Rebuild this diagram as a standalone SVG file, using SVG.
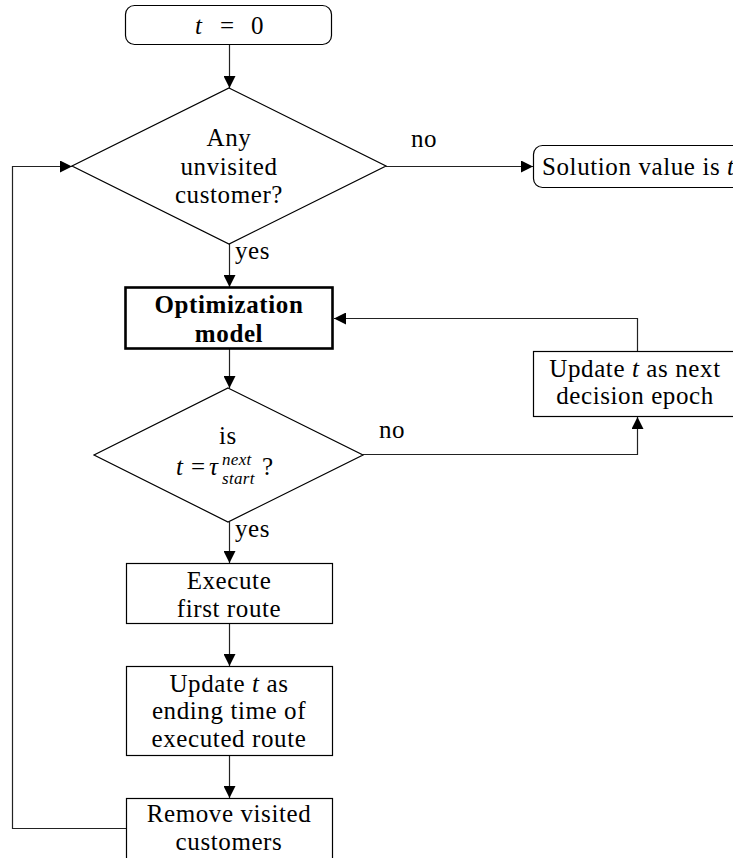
<svg xmlns="http://www.w3.org/2000/svg" width="733" height="858" viewBox="0 0 733 858" font-family="Liberation Serif, DejaVu Serif, serif">
  <style>
    .box { fill: #fff; stroke: #000; stroke-width: 1.2; }
    .bold { stroke-width: 2.6; }
    .lbl { font-size: 25px; letter-spacing: 0.6px; fill: #000; text-anchor: middle; }
    .start { text-anchor: start; }
    .it { font-style: italic; }
    .sm { font-size: 17px; letter-spacing: 0.3px; }
    .b { font-weight: bold; }
    .edge { fill: none; stroke: #222; stroke-width: 1.2; }
  </style>
  <defs>
    <marker id="arrow" viewBox="0 0 12 12" refX="12" refY="6" markerWidth="12" markerHeight="12" markerUnits="userSpaceOnUse" orient="auto">
      <path d="M0,0 L12,6 L0,12 Z" fill="#000"/>
    </marker>
  </defs>

  <!-- connectors -->
  <g id="connectors">
    <line class="edge" x1="229.5" y1="45" x2="229.5" y2="88" marker-end="url(#arrow)"/>
    <line class="edge" x1="386" y1="166.5" x2="533" y2="166.5" marker-end="url(#arrow)"/>
    <line class="edge" x1="229.5" y1="244" x2="229.5" y2="287" marker-end="url(#arrow)"/>
    <line class="edge" x1="229.5" y1="349" x2="229.5" y2="388" marker-end="url(#arrow)"/>
    <polyline class="edge" points="363,454.5 637.5,454.5 637.5,417" marker-end="url(#arrow)"/>
    <polyline class="edge" points="637.5,351 637.5,318.5 334,318.5" marker-end="url(#arrow)"/>
    <line class="edge" x1="229.5" y1="522" x2="229.5" y2="563" marker-end="url(#arrow)"/>
    <line class="edge" x1="229.5" y1="624" x2="229.5" y2="666" marker-end="url(#arrow)"/>
    <line class="edge" x1="229.5" y1="756" x2="229.5" y2="798" marker-end="url(#arrow)"/>
    <polyline class="edge" points="126,828.5 12.5,828.5 12.5,166.5 72,166.5" marker-end="url(#arrow)"/>
    <text class="lbl" x="424" y="147">no</text>
    <text class="lbl start" x="235" y="259">yes</text>
    <text class="lbl" x="392" y="438">no</text>
    <text class="lbl start" x="235" y="537">yes</text>
  </g>

  <!-- start -->
  <g id="n-start">
    <rect class="box" x="125.5" y="5.5" width="206" height="39" rx="9"/>
    <text class="lbl start" y="34"><tspan class="it" x="195">t</tspan><tspan x="220">=</tspan><tspan x="251">0</tspan></text>
  </g>

  <!-- first decision -->
  <g id="n-any">
    <polygon class="box" points="229,88 386,166 229,244 72,166"/>
    <text class="lbl" x="229" y="146">Any</text>
    <text class="lbl" x="229" y="175">unvisited</text>
    <text class="lbl" x="229" y="203">customer?</text>
  </g>

  <!-- terminal -->
  <g id="n-solution">
    <rect class="box" x="533.5" y="145.5" width="210" height="42" rx="9"/>
    <text class="lbl start" x="542" y="175">Solution value is <tspan class="it">t</tspan></text>
  </g>

  <!-- optimization -->
  <g id="n-opt">
    <rect class="box bold" x="125.5" y="287.5" width="207" height="61"/>
    <text class="lbl b" x="229" y="313">Optimization</text>
    <text class="lbl b" x="229" y="342">model</text>
  </g>

  <!-- update epoch -->
  <g id="n-epoch">
    <rect class="box" x="533.5" y="351.5" width="210" height="65"/>
    <text class="lbl" x="635" y="377">Update <tspan class="it">t</tspan> as next</text>
    <text class="lbl" x="635" y="404">decision epoch</text>
  </g>

  <!-- second decision -->
  <g id="n-is">
    <polygon class="box" points="228,388 363,455 228,522 94,455"/>
    <text class="lbl" x="228" y="444">is</text>
    <text class="lbl start" y="475"><tspan class="it" x="176">t</tspan><tspan x="191">=</tspan><tspan class="it" x="209">τ</tspan></text>
    <text class="lbl start it sm" x="222" y="465">next</text>
    <text class="lbl start it sm" x="222" y="484">start</text>
    <text class="lbl start" x="262" y="475">?</text>
  </g>

  <!-- execute -->
  <g id="n-exec">
    <rect class="box" x="126.5" y="563.5" width="206" height="60"/>
    <text class="lbl" x="229" y="589">Execute</text>
    <text class="lbl" x="229" y="617">first route</text>
  </g>

  <!-- update t -->
  <g id="n-update">
    <rect class="box" x="126.5" y="666.5" width="206" height="89"/>
    <text class="lbl" x="229" y="692">Update <tspan class="it">t</tspan> as</text>
    <text class="lbl" x="229" y="719">ending time of</text>
    <text class="lbl" x="229" y="747">executed route</text>
  </g>

  <!-- remove -->
  <g id="n-remove">
    <rect class="box" x="126.5" y="798.5" width="206" height="80"/>
    <text class="lbl" x="229" y="822">Remove visited</text>
    <text class="lbl" x="229" y="850">customers</text>
  </g>
</svg>
